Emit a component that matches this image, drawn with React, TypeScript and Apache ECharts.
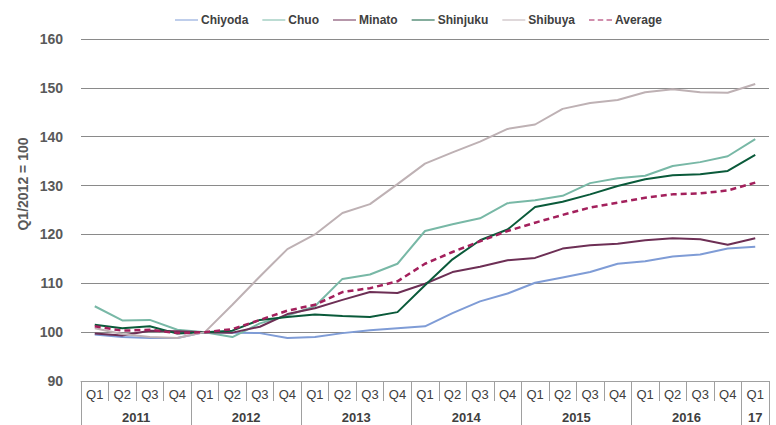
import React, { useEffect, useRef } from "react";
import * as echarts from "echarts";

const quarters = [
  "Q1", "Q2", "Q3", "Q4",
  "Q1", "Q2", "Q3", "Q4",
  "Q1", "Q2", "Q3", "Q4",
  "Q1", "Q2", "Q3", "Q4",
  "Q1", "Q2", "Q3", "Q4",
  "Q1", "Q2", "Q3", "Q4",
  "Q1",
];
const years = ["2011", "2012", "2013", "2014", "2015", "2016", "17"];
const yearSpans = [4, 4, 4, 4, 4, 4, 1];

const chiyoda = [
  99.5, 99.0, 98.8, 98.8, 100, 99.9, 99.8, 98.8, 99.0, 99.8, 100.4, 100.8,
  101.2, 103.9, 106.3, 107.9, 110.1, 111.2, 112.3, 114.0, 114.5, 115.5, 115.9,
  117.1, 117.5,
];
const chuo = [
  105.3, 102.4, 102.5, 100.5, 100, 99.0, 101.8, 103.4, 105.3, 110.9, 111.8,
  114.0, 120.7, 122.1, 123.3, 126.4, 127.0, 127.9, 130.5, 131.5, 132.0, 134.0,
  134.8, 136.0, 139.5,
];
const minato = [
  99.7, 99.3, 100.3, 100.2, 100, 99.9, 101.1, 103.7, 104.9, 106.6, 108.2,
  108.0, 109.9, 112.3, 113.4, 114.7, 115.2, 117.1, 117.8, 118.1, 118.8, 119.2,
  119.0, 117.9, 119.2,
];
const shinjuku = [
  101.5, 100.8, 101.2, 99.7, 100, 100.3, 102.5, 103.1, 103.6, 103.3, 103.1,
  104.1, 109.6, 114.9, 118.8, 121.0, 125.6, 126.7, 128.2, 129.9, 131.3, 132.1,
  132.3, 133.0, 136.3,
];
const shibuya = [
  100.8, 99.6, 99.0, 98.8, 100, 105.6, 111.4, 117.0, 120.0, 124.4, 126.2,
  130.3, 134.5, 136.8, 139.0, 141.6, 142.5, 145.7, 146.9, 147.5, 149.1, 149.7,
  149.1, 149.0, 150.8,
];
const average = [
  101.2, 100.3, 100.5, 99.8, 100, 100.6, 102.5, 104.4, 105.6, 108.2, 109.0,
  110.4, 114.0, 116.4, 118.6, 120.7, 122.4, 124.0, 125.5, 126.5, 127.5, 128.2,
  128.4, 129.0, 130.6,
];

const seriesDefs = [
  { name: "Chiyoda", data: chiyoda, color: "#7f9cd6", dashed: false },
  { name: "Chuo", data: chuo, color: "#78b8a6", dashed: false },
  { name: "Minato", data: minato, color: "#6d2f55", dashed: false },
  { name: "Shinjuku", data: shinjuku, color: "#0a5a3a", dashed: false },
  { name: "Shibuya", data: shibuya, color: "#beb1b4", dashed: false },
  { name: "Average", data: average, color: "#a3205c", dashed: true },
];

const SOLID_ICON = "path://M0,0H23V1H0Z";
const DASH_ICON = "path://M0,0H5V1H0Z M8,0H13V1H8Z M16,0H21V1H16Z";

const FONT = "'Liberation Sans', Arial, sans-serif";
const TABLE_LINE = "#a0a0a0";

export default function App() {
  const ref = useRef<HTMLDivElement>(null);

  useEffect(() => {
    if (!ref.current) return;
    const chart = echarts.init(ref.current, null, { renderer: "svg" });
    chart.setOption({
      animation: false,
      backgroundColor: "#ffffff",
      textStyle: { fontFamily: FONT },
      legend: {
        left: 170,
        top: 9,
        itemWidth: 23,
        itemHeight: 3,
        itemGap: 14,
        textStyle: {
          fontFamily: FONT,
          fontSize: 12,
          fontWeight: "bold",
          color: "#404040",
          padding: [0, 0, 0, -2],
        },
        data: seriesDefs.map((s) => ({
          name: s.name,
          icon: s.dashed ? DASH_ICON : SOLID_ICON,
          itemStyle: { color: s.color, borderWidth: 0 },
        })),
      },
      grid: { left: 81, right: 7, top: 39, bottom: 44, containLabel: false },
      xAxis: {
        type: "category",
        data: quarters,
        boundaryGap: true,
        axisLine: { show: true, lineStyle: { color: TABLE_LINE, width: 1 } },
        axisTick: {
          show: true,
          interval: 0,
          length: 20,
          lineStyle: { color: TABLE_LINE, width: 1 },
        },
        axisLabel: {
          interval: 0,
          margin: 7,
          fontFamily: FONT,
          fontSize: 13,
          color: "#404040",
        },
        splitLine: { show: false },
      },
      yAxis: {
        type: "value",
        min: 90,
        max: 160,
        interval: 10,
        axisLine: { show: false },
        axisTick: { show: false },
        axisLabel: {
          margin: 18,
          fontFamily: FONT,
          fontSize: 14,
          fontWeight: "bold",
          color: "#595959",
        },
        splitLine: { show: true, lineStyle: { color: "#8a8a8a", width: 1.2 } },
      },
      series: seriesDefs.map((s) => ({
        name: s.name,
        type: "line",
        data: s.data,
        symbol: "none",
        showSymbol: false,
        smooth: false,
        color: s.color,
        lineStyle: {
          color: s.color,
          width: s.dashed ? 2.5 : 2,
          type: s.dashed ? [6, 4] : "solid",
        },
        emphasis: { disabled: true },
        z: s.dashed ? 3 : 2,
      })),
    });

    const c0 = chart.convertToPixel({ xAxisIndex: 0 }, 0) as number;
    const c1 = chart.convertToPixel({ xAxisIndex: 0 }, 1) as number;
    const band = c1 - c0;
    const start = c0 - band / 2;
    const axisY = chart.convertToPixel({ yAxisIndex: 0 }, 90) as number;

    const graphics: any[] = [];
    let k = 0;
    const boundaries = [0];
    yearSpans.forEach((span) => {
      k += span;
      boundaries.push(k);
    });
    boundaries.forEach((b) => {
      const x = Math.round(start + b * band) + 0.5;
      graphics.push({
        type: "line",
        shape: { x1: x, y1: axisY, x2: x, y2: axisY + 46 },
        style: { stroke: TABLE_LINE, lineWidth: 1 },
        silent: true,
      });
    });
    years.forEach((y, i) => {
      const mid = start + ((boundaries[i] + boundaries[i + 1]) / 2) * band;
      graphics.push({
        type: "text",
        x: mid,
        y: axisY + 36,
        style: {
          text: y,
          fontFamily: FONT,
          fontSize: 13,
          fontWeight: "bold",
          fill: "#404040",
          textAlign: "center",
          textVerticalAlign: "middle",
        },
        silent: true,
      });
    });
    graphics.push({
      type: "text",
      x: 23,
      y: 184,
      rotation: Math.PI / 2,
      style: {
        text: "Q1/2012 = 100",
        fontFamily: FONT,
        fontSize: 14,
        fontWeight: "bold",
        fill: "#595959",
        textAlign: "center",
        textVerticalAlign: "middle",
      },
      silent: true,
    });
    chart.setOption({ graphic: graphics });

    return () => {
      chart.dispose();
    };
  }, []);

  return (
    <div
      ref={ref}
      style={{
        position: "fixed",
        left: 0,
        top: 0,
        width: 776,
        height: 425,
        background: "#fff",
      }}
    />
  );
}
